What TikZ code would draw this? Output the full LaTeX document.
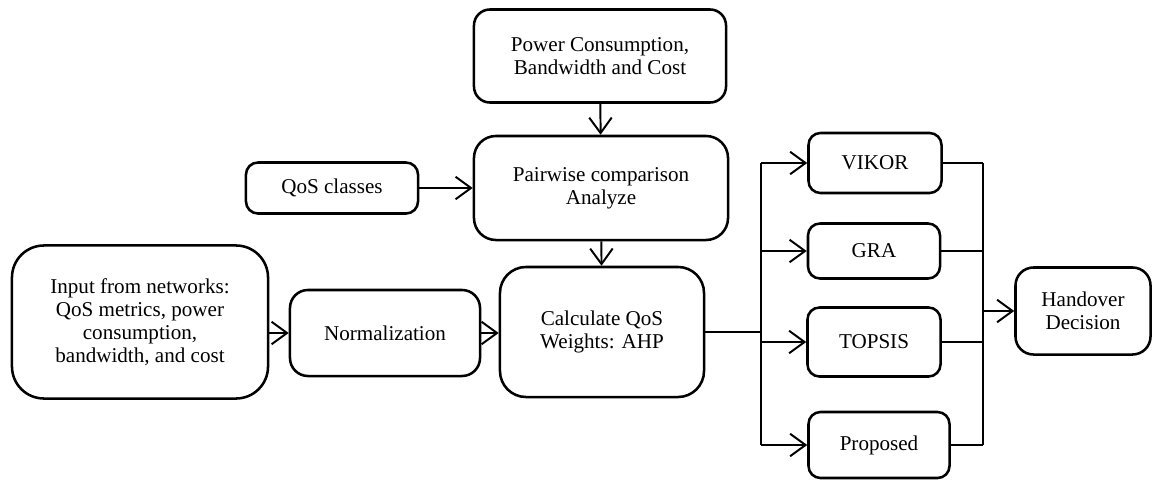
\documentclass[tikz,border=0pt]{standalone}
\usepackage{fontspec}
\setmainfont{Liberation Serif}
\usetikzlibrary{arrows.meta}

\definecolor{colorOne}{HTML}{000000}
\def\colorOne{colorOne}

\tikzset{
    bloc/.style={draw=\colorOne, line width=1.8pt, rounded corners=0.4cm, align=center,
        inner sep=0pt, font=\fontsize{15pt}{16.5pt}\selectfont},
    fleche/.style={line width=1.4pt, color=\colorOne, -{Straight Barb[length=11pt,width=16pt]}},
    trait/.style={line width=1.4pt, color=\colorOne}
}

\begin{document}
\begin{tikzpicture}[x=0.025cm, y=-0.025cm]
    \useasboundingbox (0,0) rectangle (1163,480);

    % Blocs du haut
    \node[bloc, minimum width=6.3cm, minimum height=2.325cm] (power) at (600,56)
        {Power Consumption,\\Bandwidth and Cost};
    \node[bloc, minimum width=6.35cm, minimum height=2.6cm, rounded corners=0.55cm] (pairwise) at (601,188)
        {Pairwise comparison\\Analyze};
    \node[bloc, minimum width=4.3cm, minimum height=1.275cm, rounded corners=0.3cm] (qos) at (332,188)
        {QoS classes};

    % Blocs du milieu
    \node[bloc, minimum width=6.4cm, minimum height=3.825cm, rounded corners=0.8cm] (input) at (140,322)
        {Input from networks:\\QoS metrics, power\\consumption,\\bandwidth, and cost};
    \node[bloc, minimum width=4.75cm, minimum height=2.15cm, rounded corners=0.45cm] (norm) at (385,333)
        {Normalization};
    \node[bloc, minimum width=5.1cm, minimum height=3.25cm, rounded corners=0.65cm] (calc) at (602,332)
        {Calculate QoS\\Weights: AHP};

    % Methodes
    \node[bloc, minimum width=3.325cm, minimum height=1.5cm, rounded corners=0.3cm] (vikor) at (875,163) {VIKOR};
    \node[bloc, minimum width=3.3cm, minimum height=1.375cm, rounded corners=0.3cm] (gra) at (874,251) {GRA};
    \node[bloc, minimum width=3.325cm, minimum height=1.725cm, rounded corners=0.3cm] (topsis) at (874,342) {TOPSIS};
    \node[bloc, minimum width=3.525cm, minimum height=1.65cm, rounded corners=0.3cm] (proposed) at (879,445) {Proposed};

    \node[bloc, minimum width=3.375cm, minimum height=2.175cm, rounded corners=0.45cm] (handover) at (1083,311)
        {Handover\\Decision};

    % Barres verticales
    \coordinate (busL) at (761,0);
    \coordinate (busR) at (983,0);

    \draw[fleche] (power) -- (pairwise);
    \draw[fleche] (qos) -- (pairwise.west |- qos);
    \draw[fleche] (pairwise) -- (calc);
    \draw[fleche] (norm.west -| input.east) -- (norm.west);
    \draw[fleche] (norm) -- (calc.west |- norm);

    \draw[trait] (calc.east) -- (calc.east -| busL);
    \draw[trait] (vikor.west -| busL) -- (proposed.west -| busL);
    \foreach \m in {vikor, gra, topsis, proposed}
        \draw[fleche] (\m.west -| busL) -- (\m.west);

    \foreach \m in {vikor, gra, topsis, proposed}
        \draw[trait] (\m.east) -- (\m.east -| busR);
    \draw[trait] (vikor.east -| busR) -- (proposed.east -| busR);
    \draw[fleche] (handover.west -| busR) -- (handover.west);
\end{tikzpicture}
\end{document}
